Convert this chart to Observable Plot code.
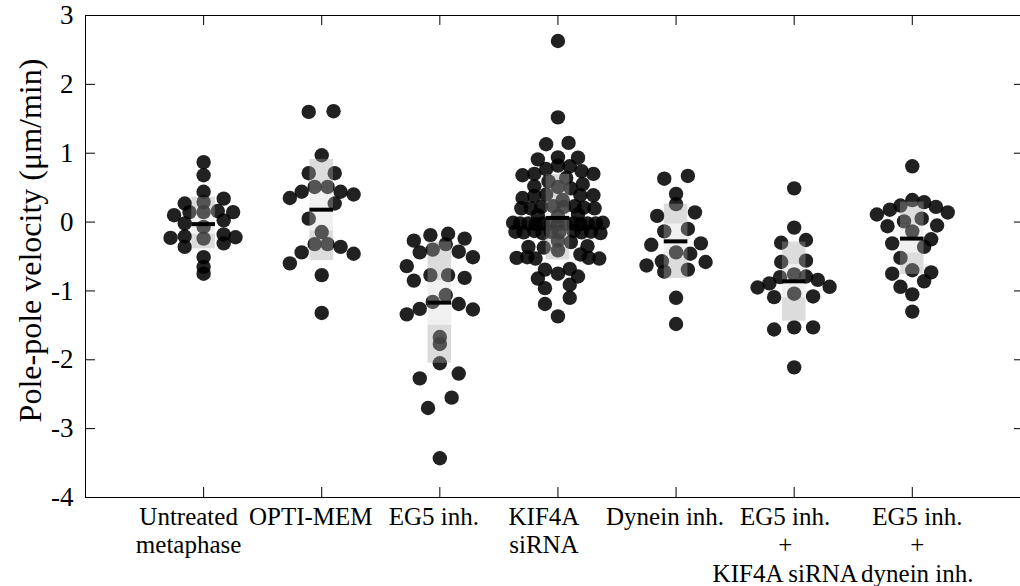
<!DOCTYPE html>
<html><head><meta charset="utf-8">
<script src="https://cdn.jsdelivr.net/npm/d3@7"></script>
<script src="https://cdn.jsdelivr.net/npm/@observablehq/plot@0.6"></script>
<style>
body{margin:0;background:#fff;overflow:hidden}
#chart{width:1020px;height:586px;overflow:hidden}
#chart svg, #chart svg text, #chart svg g {font-family:"Liberation Serif","Times New Roman",Times,serif !important}
</style>
</head><body><div id="chart"></div>
<script>
const categories = ["Untreated\nmetaphase", "OPTI-MEM", "EG5 inh.", "KIF4A\nsiRNA", "Dynein inh.", "EG5 inh.\n+\nKIF4A siRNA", "EG5 inh.\n+\ndynein inh."];
const yTicks = [3, 2, 1, 0, -1, -2, -3, -4];
const yLabel = "Pole-pole velocity (μm/min)";

const untreated = [0.87,0.68,0.44,0.29,0.145,-0.07,-0.24,-0.51,-0.65,-0.75, 0.27,0.10,0.145,-0.02,-0.23,-0.21,-0.36, 0.34,0.145,0.16,0.025,-0.18,-0.22,-0.31];
const untreatedJitter = [0,0,0,0,0,0,0,0,0,0, -0.16,-0.25,-0.12,-0.16,-0.28,-0.16,-0.16, 0.17,0.25,0.12,0.17,0.17,0.27,0.17];

const optiMem = [1.60,1.61,0.97,0.71,0.71,0.51,0.51,0.44,0.44,0.35,0.40,0.27,0.05,-0.145,-0.32,-0.32,-0.44,-0.36,-0.60,-0.46,-0.77,-1.32];
const optiMemJitter = [-0.11,0.10,0,-0.11,0.11,-0.06,0.05,-0.17,0.16,-0.27,0.27,0.11,-0.11,0,-0.06,0.05,-0.17,0.16,-0.27,0.27,0,0];

const eg5 = [-0.27,-0.19,-0.17,-0.24,-0.44,-0.40,-0.32,-0.43,-0.51,-0.64,-0.85,-0.77,-0.77,-0.81,-1.06,-1.16,-1.26,-1.19,-1.27,-1.34,-1.67,-1.77,-2.05,-2.27,-2.20,-2.55,-2.70,-3.43];
const eg5Jitter = [-0.22,-0.08,0.07,0.21,-0.17,-0.06,0.05,0.16,0.28,-0.28,-0.22,-0.08,0.07,0.21,0.05,-0.06,-0.17,0.16,0.28,-0.28,0,0,0,-0.17,0.16,0.10,-0.10,0];

const kif4a = [2.63,1.52,1.13,1.15, 0.91,0.94,0.935, 0.77,0.82,0.81,0.74, 0.68,0.70,0.70, 0.59,0.64, 0.52,0.51,0.49,0.55,
  0.35,0.38,0.40,0.32,0.39,0.39, 0.20,0.20,0.22,0.23,0.22,0.23,0.21,0.20, 0.10,0.09,0.11,
  -0.01,-0.02,-0.02,-0.03,-0.02,-0.02,-0.03,-0.02,-0.02,-0.03,-0.02,-0.02,-0.01,
  -0.14,-0.15,-0.13,-0.16,-0.14,-0.15,-0.13,-0.15,-0.14,-0.16,
  -0.36,-0.37,-0.27,-0.41,-0.29,-0.35, -0.52,-0.51,-0.53,-0.47,-0.52,-0.53,
  -0.69,-0.75,-0.68,-0.82,-0.79,-0.96,-0.91,-1.10,-1.19,-1.37];
const kif4aJitter = [0,0,-0.10,0.09, -0.17,0,0.17, -0.10,0,0.10,0.20, -0.30,-0.20,0.30, -0.08,0.07, -0.20,0,0.11,0.21,
  -0.30,-0.20,-0.10,0.04,0.19,0.30, -0.31,-0.23,-0.14,-0.04,0.05,0.14,0.22,0.31, -0.17,0,0.17,
  -0.38,-0.32,-0.25,-0.19,-0.13,-0.064,0,0.064,0.13,0.19,0.25,0.32,0.38,
  -0.36,-0.29,-0.20,-0.13,-0.06,0.01,0.13,0.20,0.28,0.36,
  -0.25,-0.12,0,0,0.11,0.25, -0.35,-0.26,-0.19,0.19,0.26,0.35,
  -0.11,0,0.10,-0.17,0.17,-0.11,0.10,0.10,-0.11,0];

const dynein = [0.63,0.67,0.41,0.26,0.09,0.14,-0.135,-0.10,-0.33,-0.31,-0.44,-0.46,-0.63,-0.57,-0.58,-0.72,-0.69,-1.10,-1.48];
const dyneinJitter = [-0.10,0.10,0,0,-0.16,0.16,-0.10,0.10,-0.21,0.21,0,0.12,-0.25,-0.12,0.25,-0.10,0.10,0,0];

const eg5Kif4a = [0.49,-0.08,-0.30,-0.26,-0.58,-0.56,-0.76,-0.80,-0.79,-0.89,-0.84,-0.95,-0.94,-1.09,-1.08,-1.04,-1.56,-1.53,-1.53,-2.11];
const eg5Kif4aJitter = [0,0,-0.11,0.10,-0.11,0.10,0,-0.12,0.10,-0.21,0.20,-0.31,0.30,-0.17,0.16,0,-0.17,0,0.16,0];

const eg5Dynein = [0.81,0.32,0.24,0.29,0.18,0.22,0.11,0.14,0.01,0.05,-0.06,-0.05,-0.135,-0.31,-0.25,-0.36,-0.52,-0.70,-0.75,-0.73,-0.86,-0.94,-1.05,-1.30];
const eg5DyneinJitter = [0,0,-0.10,0.10,-0.19,0.20,-0.30,0.30,-0.07,0.08,-0.21,0.21,0,-0.17,0.16,0.10,-0.10,0,-0.17,0.16,0.10,-0.10,0,0];

// summary: mean line, SD band, 95% CI band
const means = [-0.03, 0.18, -1.17, 0.06, -0.28, -0.86, -0.24];
const sdHigh = [0.36, 0.91, -0.29, 0.69, 0.26, -0.29, 0.29];
const sdLow = [-0.39, -0.56, -2.05, -0.55, -0.82, -1.44, -0.76];
const ciHigh = [0.12, 0.50, -0.85, 0.20, -0.03, -0.62, -0.03];
const ciLow = [-0.18, -0.13, -1.50, -0.07, -0.52, -1.10, -0.45];

const groups = [
  [untreated, untreatedJitter], [optiMem, optiMemJitter], [eg5, eg5Jitter], [kif4a, kif4aJitter],
  [dynein, dyneinJitter], [eg5Kif4a, eg5Kif4aJitter], [eg5Dynein, eg5DyneinJitter]
];
const points = [];
groups.forEach(([vals, jit], gi) => vals.forEach((v, j) => points.push({x: gi + 1 + jit[j], y: v})));
const boxes = categories.map((c, i) => ({i: i + 1, mean: means[i], sdHi: sdHigh[i], sdLo: sdLow[i], ciHi: ciHigh[i], ciLo: ciLow[i]}));
const catIdx = categories.map((c, i) => i + 1);
const hw = 0.1;
const xMax = 7.95;
const serif = '"Liberation Serif","Times New Roman",Times,serif';
// small horizontal nudge of each category label, as in the original figure
const labelNudge = [-15, -11, -6, -14, -11, -9, 5];

const xLabelAxes = catIdx.map((i, k) => Plot.axisX({
  ticks: [i], tickSize: 0, tickPadding: 7, tickFormat: t => categories[t - 1],
  fontSize: 25, lineHeight: 1.14, dx: labelNudge[k], label: null, fontFamily: serif
}));

const plot = Plot.plot({
  width: 1020, height: 586,
  marginLeft: 85, marginRight: 0, marginTop: 15, marginBottom: 89,
  x: {domain: [0, xMax], range: [85, 1024], axis: null},
  y: {domain: [-4, 3], axis: null},
  style: {fontFamily: serif, background: "white", color: "black"},
  marks: [
    Plot.dot(points, {x: "x", y: "y", r: 7.2, fill: "black", fillOpacity: 0.87, stroke: null}),
    Plot.rect(boxes, {x1: d => d.i - hw, x2: d => d.i + hw, y1: "ciHi", y2: "sdHi", fill: "#a4a4a4", fillOpacity: 0.39}),
    Plot.rect(boxes, {x1: d => d.i - hw, x2: d => d.i + hw, y1: "sdLo", y2: "ciLo", fill: "#a4a4a4", fillOpacity: 0.39}),
    Plot.rect(boxes, {x1: d => d.i - hw, x2: d => d.i + hw, y1: "ciLo", y2: "ciHi", fill: "#cdcdcd", fillOpacity: 0.3}),
    Plot.ruleY(boxes, {x1: d => d.i - hw, x2: d => d.i + hw, y: "mean", stroke: "black", strokeWidth: 4}),
    Plot.ruleY([3, -4], {stroke: "black", strokeWidth: 1}),
    Plot.ruleX([0, xMax], {stroke: "black", strokeWidth: 1}),
    Plot.ruleY(yTicks, {x1: 0, x2: 0.085, stroke: "black"}),
    Plot.ruleY(yTicks, {x1: xMax - 0.085, x2: xMax, stroke: "black"}),
    Plot.ruleX(catIdx, {y1: 3, y2: 2.855, stroke: "black"}),
    Plot.ruleX(catIdx, {y1: -4, y2: -3.855, stroke: "black"}),
    Plot.axisY({ticks: yTicks, tickSize: 0, tickPadding: 12, tickFormat: d => String(d), fontSize: 27, label: null, fontFamily: serif}),
    ...xLabelAxes,
    Plot.text([yLabel], {frameAnchor: "left", textAnchor: "middle", rotate: -90, dx: -55, dy: -16, fontSize: 32, fontFamily: serif, text: d => d})
  ]
});
document.getElementById("chart").appendChild(plot);
</script>
</body></html>
